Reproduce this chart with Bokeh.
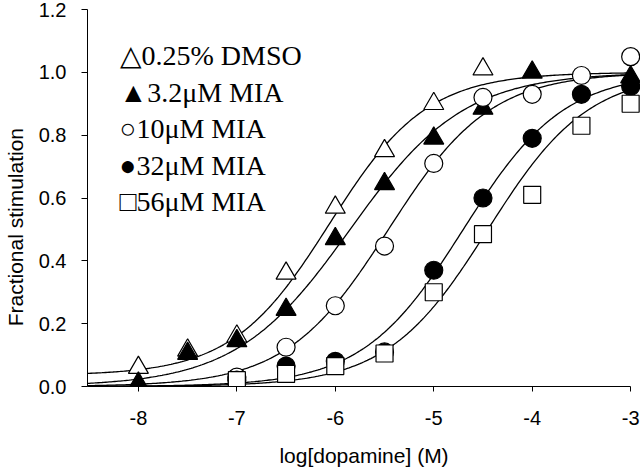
import numpy as np
from bokeh.plotting import figure
from bokeh.models import Range1d, FixedTicker, Label
from bokeh.embed import file_html
from bokeh.resources import INLINE

# ---- data -------------------------------------------------------------
series_names = ["0.25% DMSO", "3.2\u03bcM MIA", "10\u03bcM MIA", "32\u03bcM MIA", "56\u03bcM MIA"]
legend_symbols = ["\u25b3", "\u25b2", "\u25cb", "\u25cf", "\u25a1"]

dmso_x = [-8, -7.5, -7, -6.5, -6, -5.5, -5, -4.5]
dmso_y = [0.06, 0.115, 0.16, 0.36, 0.57, 0.75, 0.90, 1.01]

mia32_x = [-8, -7.5, -7, -6.5, -6, -5.5, -5, -4.5, -4, -3]
mia32_y = [0.01, 0.105, 0.145, 0.245, 0.47, 0.645, 0.79, 0.885, 1.0, 0.985]

mia10_x = [-7, -6.5, -6, -5.5, -5, -4.5, -4, -3.5, -3]
mia10_y = [0.03, 0.125, 0.257, 0.447, 0.71, 0.92, 0.93, 0.99, 1.05]

mia320_x = [-7, -6.5, -6, -5.5, -5, -4.5, -4, -3.5, -3]
mia320_y = [0.02, 0.065, 0.08, 0.11, 0.37, 0.60, 0.79, 0.93, 0.955]

mia56_x = [-7, -6.5, -6, -5.5, -5, -4.5, -4, -3.5, -3]
mia56_y = [0.02, 0.04, 0.065, 0.105, 0.30, 0.485, 0.61, 0.83, 0.90]

# fitted sigmoid curves
fit_bottom = [0.035, 0.0, 0.0, 0.0, 0.0]
fit_top = [1.0, 1.0, 1.0, 1.0, 1.0]
fit_logec50 = [-6.06, -5.85, -5.46, -4.70, -4.45]
fit_hill = [0.88, 0.75, 0.84, 0.85, 0.85]

x_ticks = [-8, -7, -6, -5, -4, -3]
x_tick_labels = ["-8", "-7", "-6", "-5", "-4", "-3"]
y_ticks = [0.0, 0.2, 0.4, 0.6, 0.8, 1.0, 1.2]
y_tick_labels = ["0.0", "0.2", "0.4", "0.6", "0.8", "1.0", "1.2"]

x_label = "log[dopamine] (M)"
y_label = "Fractional stimulation"

x_lo, x_axis_hi, x_hi = -8.517, -3.0, -2.9
y_lo, y_hi = 0.0, 1.2

# ---- figure -----------------------------------------------------------
p = figure(width=640, height=471, output_backend="svg", toolbar_location=None,
           x_range=Range1d(x_lo, x_hi), y_range=Range1d(y_lo, y_hi),
           min_border_left=86, min_border_right=0, min_border_top=9, min_border_bottom=85)
p.outline_line_color = None
p.grid.visible = False
p.background_fill_color = "white"
p.border_fill_color = "white"

for ax in (p.xaxis[0], p.yaxis[0]):
    ax.axis_line_color = "black"
    ax.axis_line_width = 1
    ax.major_tick_line_color = "black"
    ax.major_tick_in = 0
    ax.minor_tick_line_color = None
    ax.major_label_text_font = "Liberation Sans"
    ax.major_label_text_font_size = "20px"
    ax.major_label_text_color = "black"
    ax.axis_label_text_font = "Liberation Sans"
    ax.axis_label_text_font_size = "21px"
    ax.axis_label_text_font_style = "normal"
    ax.axis_label_text_color = "black"

p.xaxis[0].ticker = FixedTicker(ticks=x_ticks)
p.xaxis[0].major_label_overrides = dict(zip(x_ticks, x_tick_labels))
p.xaxis[0].bounds = (x_lo, x_axis_hi)
p.xaxis[0].major_tick_out = 5
p.xaxis[0].major_label_standoff = 19
p.xaxis[0].axis_label = x_label
p.xaxis[0].axis_label_standoff = 16

p.yaxis[0].ticker = FixedTicker(ticks=y_ticks)
p.yaxis[0].major_label_overrides = dict(zip(y_ticks, y_tick_labels))
p.yaxis[0].bounds = (y_lo, y_hi)
p.yaxis[0].major_tick_out = 6
p.yaxis[0].major_label_standoff = 15
# trailing no-break spaces push the centred label down, as in the original
p.yaxis[0].axis_label = y_label + "\u00a0" * 10
p.yaxis[0].axis_label_standoff = 9

# fitted curves
xs = np.linspace(x_lo, x_axis_hi, 300)
for b, t, ec, n in zip(fit_bottom, fit_top, fit_logec50, fit_hill):
    ys = b + (t - b) / (1.0 + 10 ** ((ec - xs) * n))
    p.line(xs, ys, line_color="black", line_width=1.3)

# points
p.scatter(dmso_x, dmso_y, marker="triangle", size=20, fill_color="white", line_color="black", line_width=1.2)
p.scatter(mia32_x, mia32_y, marker="triangle", size=20, fill_color="black", line_color="black", line_width=1.2)
p.scatter(mia10_x, mia10_y, marker="circle", size=18, fill_color="white", line_color="black", line_width=1.2)
p.scatter(mia320_x, mia320_y, marker="circle", size=18, fill_color="black", line_color="black", line_width=1.2)
p.scatter(mia56_x, mia56_y, marker="square", size=17, fill_color="white", line_color="black", line_width=1.2)

# legend (typeset text block, as in the original)
legend_x = 32
legend_top = 331
legend_step = 36.5
for i, (sym, name) in enumerate(zip(legend_symbols, series_names)):
    p.add_layout(Label(x=legend_x, y=legend_top - i * legend_step, x_units="screen", y_units="screen",
                       text=sym + name, text_font="Liberation Serif", text_font_size="28px",
                       text_color="black", text_baseline="alphabetic"))

open("out.html", "w").write(file_html(p, INLINE))
